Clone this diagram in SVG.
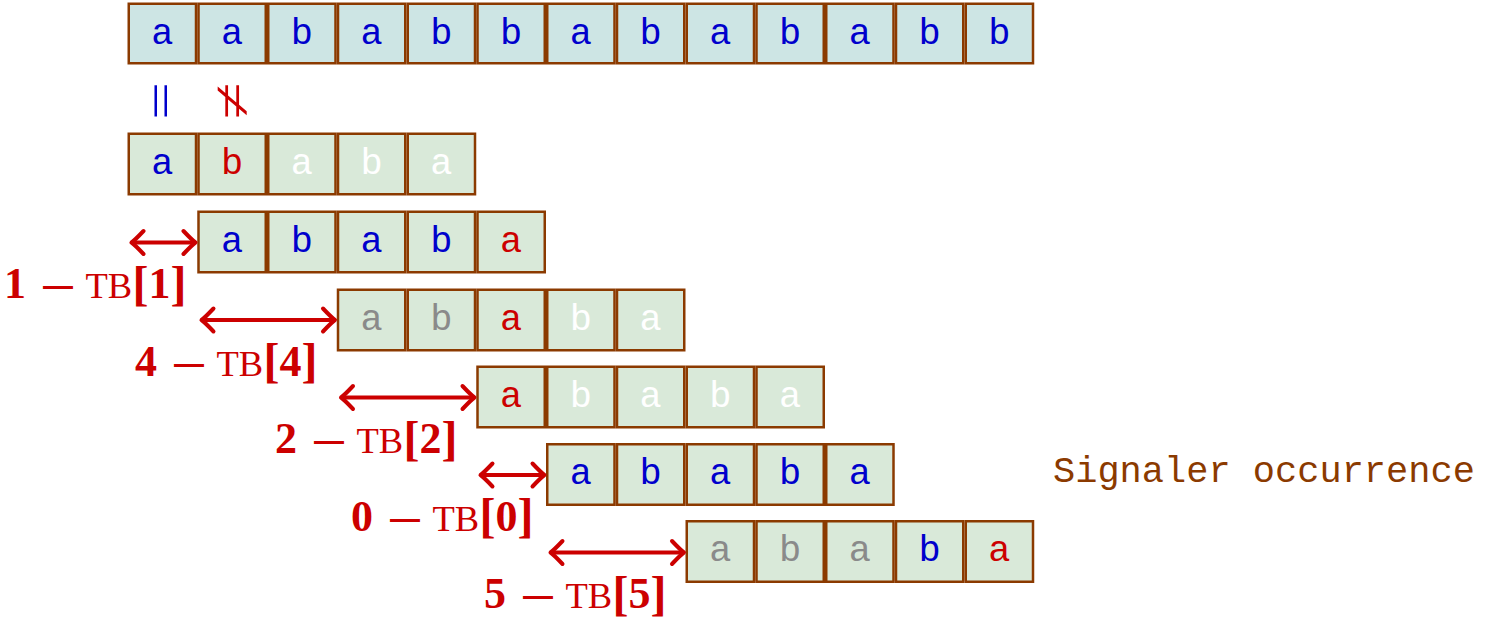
<svg xmlns="http://www.w3.org/2000/svg" width="1489" height="626" viewBox="0 0 1489 626">
  <defs>
    <style>
      .top rect { fill: #CDE5E4; stroke: #8B3A00; stroke-width: 2.5; }
      .pat rect { fill: #D9E9D9; stroke: #8B3A00; stroke-width: 2.5; }
      .ch { font-family: "Liberation Mono", "DejaVu Sans Mono", monospace; font-size: 37px; text-anchor: middle; }
      .b { fill: #0000CC; }
      .r { fill: #CC0000; }
      .w { fill: #FFFFFF; }
      .g { fill: #8A8A8A; }
      .arrow { stroke: #CC0000; stroke-width: 4; fill: none; marker-start: url(#head); marker-end: url(#head); }
      .lbl { fill: #CC0000; }
      .num { font-family: "Liberation Serif", serif; font-weight: bold; font-size: 44px; }
      .dash { font-family: "Liberation Sans", sans-serif; font-weight: bold; font-size: 30px; }
      .tt { font-family: "Liberation Serif", serif; font-size: 36.5px; }
      .br { font-family: "Liberation Serif", serif; font-weight: bold; font-size: 48px; }
      .cmp { font-family: "Liberation Serif", serif; font-size: 50px; text-anchor: middle; }
      .note { font-family: "Liberation Mono", monospace; font-size: 37px; fill: #8B3A00; }
    </style>
    <marker id="head" markerUnits="userSpaceOnUse" markerWidth="30" markerHeight="30" refX="0" refY="0" viewBox="-15 -15 30 30" orient="auto-start-reverse" overflow="visible">
      <path d="M -12 -11.5 Q -3 -2 0 0 Q -3 2 -12 11.5" fill="none" stroke="#CC0000" stroke-width="4" stroke-linecap="round" stroke-linejoin="round"/>
    </marker>
  </defs>

  <rect width="1489" height="626" fill="#FFFFFF"/>

  <!-- text being searched -->
  <g id="text-row" class="top" transform="translate(127.5,2.5)">
    <rect x="1.25" y="1.25" width="67.25" height="59.5"/>
    <rect x="71" y="1.25" width="67.25" height="59.5"/>
    <rect x="140.75" y="1.25" width="67.25" height="59.5"/>
    <rect x="210.5" y="1.25" width="67.25" height="59.5"/>
    <rect x="280.25" y="1.25" width="67.25" height="59.5"/>
    <rect x="350" y="1.25" width="67.25" height="59.5"/>
    <rect x="419.75" y="1.25" width="67.25" height="59.5"/>
    <rect x="489.5" y="1.25" width="67.25" height="59.5"/>
    <rect x="559.25" y="1.25" width="67.25" height="59.5"/>
    <rect x="629" y="1.25" width="67.25" height="59.5"/>
    <rect x="698.75" y="1.25" width="67.25" height="59.5"/>
    <rect x="768.5" y="1.25" width="67.25" height="59.5"/>
    <rect x="838.25" y="1.25" width="67.25" height="59.5"/>
    <text class="ch b" x="34.875" y="41">a</text>
    <text class="ch b" x="104.625" y="41">a</text>
    <text class="ch b" x="174.375" y="41">b</text>
    <text class="ch b" x="244.125" y="41">a</text>
    <text class="ch b" x="313.875" y="41">b</text>
    <text class="ch b" x="383.625" y="41">b</text>
    <text class="ch b" x="453.375" y="41">a</text>
    <text class="ch b" x="523.125" y="41">b</text>
    <text class="ch b" x="592.875" y="41">a</text>
    <text class="ch b" x="662.625" y="41">b</text>
    <text class="ch b" x="732.375" y="41">a</text>
    <text class="ch b" x="802.125" y="41">b</text>
    <text class="ch b" x="871.875" y="41">b</text>
  </g>

  <!-- comparison of the first two characters -->
  <g id="match-marks">
    <text class="cmp b" transform="translate(144,101) rotate(90) scale(1.34,1)">=</text>
    <text class="cmp r" transform="translate(214,101) rotate(90) scale(1.34,1.1)">≠</text>
  </g>

  <!-- pattern at successive shifts -->
  <g id="pattern-0" class="pat" transform="translate(127.5,132.5)">
    <rect x="1.25" y="1.25" width="67.25" height="60.5"/>
    <rect x="71" y="1.25" width="67.25" height="60.5"/>
    <rect x="140.75" y="1.25" width="67.25" height="60.5"/>
    <rect x="210.5" y="1.25" width="67.25" height="60.5"/>
    <rect x="280.25" y="1.25" width="67.25" height="60.5"/>
    <text class="ch b" x="34.875" y="41">a</text>
    <text class="ch r" x="104.625" y="41">b</text>
    <text class="ch w" x="174.375" y="41">a</text>
    <text class="ch w" x="244.125" y="41">b</text>
    <text class="ch w" x="313.875" y="41">a</text>
  </g>

  <g id="pattern-1" class="pat" transform="translate(197.25,210.5)">
    <rect x="1.25" y="1.25" width="67.25" height="60.5"/>
    <rect x="71" y="1.25" width="67.25" height="60.5"/>
    <rect x="140.75" y="1.25" width="67.25" height="60.5"/>
    <rect x="210.5" y="1.25" width="67.25" height="60.5"/>
    <rect x="280.25" y="1.25" width="67.25" height="60.5"/>
    <text class="ch b" x="34.875" y="41">a</text>
    <text class="ch b" x="104.625" y="41">b</text>
    <text class="ch b" x="174.375" y="41">a</text>
    <text class="ch b" x="244.125" y="41">b</text>
    <text class="ch r" x="313.875" y="41">a</text>
  </g>

  <g id="pattern-2" class="pat" transform="translate(336.75,288.5)">
    <rect x="1.25" y="1.25" width="67.25" height="60.5"/>
    <rect x="71" y="1.25" width="67.25" height="60.5"/>
    <rect x="140.75" y="1.25" width="67.25" height="60.5"/>
    <rect x="210.5" y="1.25" width="67.25" height="60.5"/>
    <rect x="280.25" y="1.25" width="67.25" height="60.5"/>
    <text class="ch g" x="34.875" y="41">a</text>
    <text class="ch g" x="104.625" y="41">b</text>
    <text class="ch r" x="174.375" y="41">a</text>
    <text class="ch w" x="244.125" y="41">b</text>
    <text class="ch w" x="313.875" y="41">a</text>
  </g>

  <g id="pattern-3" class="pat" transform="translate(476.25,365.5)">
    <rect x="1.25" y="1.25" width="67.25" height="60.5"/>
    <rect x="71" y="1.25" width="67.25" height="60.5"/>
    <rect x="140.75" y="1.25" width="67.25" height="60.5"/>
    <rect x="210.5" y="1.25" width="67.25" height="60.5"/>
    <rect x="280.25" y="1.25" width="67.25" height="60.5"/>
    <text class="ch r" x="34.875" y="41">a</text>
    <text class="ch w" x="104.625" y="41">b</text>
    <text class="ch w" x="174.375" y="41">a</text>
    <text class="ch w" x="244.125" y="41">b</text>
    <text class="ch w" x="313.875" y="41">a</text>
  </g>

  <g id="pattern-4" class="pat" transform="translate(546,443)">
    <rect x="1.25" y="1.25" width="67.25" height="60.5"/>
    <rect x="71" y="1.25" width="67.25" height="60.5"/>
    <rect x="140.75" y="1.25" width="67.25" height="60.5"/>
    <rect x="210.5" y="1.25" width="67.25" height="60.5"/>
    <rect x="280.25" y="1.25" width="67.25" height="60.5"/>
    <text class="ch b" x="34.875" y="41">a</text>
    <text class="ch b" x="104.625" y="41">b</text>
    <text class="ch b" x="174.375" y="41">a</text>
    <text class="ch b" x="244.125" y="41">b</text>
    <text class="ch b" x="313.875" y="41">a</text>
  </g>

  <g id="pattern-5" class="pat" transform="translate(685.5,520)">
    <rect x="1.25" y="1.25" width="67.25" height="60.5"/>
    <rect x="71" y="1.25" width="67.25" height="60.5"/>
    <rect x="140.75" y="1.25" width="67.25" height="60.5"/>
    <rect x="210.5" y="1.25" width="67.25" height="60.5"/>
    <rect x="280.25" y="1.25" width="67.25" height="60.5"/>
    <text class="ch g" x="34.875" y="41">a</text>
    <text class="ch g" x="104.625" y="41">b</text>
    <text class="ch g" x="174.375" y="41">a</text>
    <text class="ch b" x="244.125" y="41">b</text>
    <text class="ch r" x="313.875" y="41">a</text>
  </g>

  <!-- shift arrows -->
  <g id="connectors">
    <line class="arrow" x1="131.5" y1="242.5" x2="195.5" y2="242.5"/>
    <line class="arrow" x1="201.5" y1="320" x2="335" y2="320"/>
    <line class="arrow" x1="341" y1="397.5" x2="474.5" y2="397.5"/>
    <line class="arrow" x1="480.5" y1="475" x2="544.5" y2="475"/>
    <line class="arrow" x1="550.5" y1="552.5" x2="684" y2="552.5"/>
  </g>

  <!-- shift amounts -->
  <g id="shift-labels" class="lbl">
    <text transform="translate(7,298)"><tspan class="num" x="-3" y="0">1</tspan><tspan class="dash" x="36" y="-2">—</tspan><tspan class="tt" x="78.5" y="0">TB</tspan><tspan class="br" x="125.5" y="1.5">[</tspan><tspan class="num" x="141.5" y="0">1</tspan><tspan class="br" x="163.5" y="1.5">]</tspan></text>
    <text transform="translate(138,375.5)"><tspan class="num" x="-3" y="0">4</tspan><tspan class="dash" x="36" y="-2">—</tspan><tspan class="tt" x="78.5" y="0">TB</tspan><tspan class="br" x="125.5" y="1.5">[</tspan><tspan class="num" x="141.5" y="0">4</tspan><tspan class="br" x="163.5" y="1.5">]</tspan></text>
    <text transform="translate(278,453)"><tspan class="num" x="-3" y="0">2</tspan><tspan class="dash" x="36" y="-2">—</tspan><tspan class="tt" x="78.5" y="0">TB</tspan><tspan class="br" x="125.5" y="1.5">[</tspan><tspan class="num" x="141.5" y="0">2</tspan><tspan class="br" x="163.5" y="1.5">]</tspan></text>
    <text transform="translate(354,530.5)"><tspan class="num" x="-3" y="0">0</tspan><tspan class="dash" x="36" y="-2">—</tspan><tspan class="tt" x="78.5" y="0">TB</tspan><tspan class="br" x="125.5" y="1.5">[</tspan><tspan class="num" x="141.5" y="0">0</tspan><tspan class="br" x="163.5" y="1.5">]</tspan></text>
    <text transform="translate(487,608)"><tspan class="num" x="-3" y="0">5</tspan><tspan class="dash" x="36" y="-2">—</tspan><tspan class="tt" x="78.5" y="0">TB</tspan><tspan class="br" x="125.5" y="1.5">[</tspan><tspan class="num" x="141.5" y="0">5</tspan><tspan class="br" x="163.5" y="1.5">]</tspan></text>
  </g>

  <text id="report" class="note" x="1053" y="482">Signaler occurrence</text>
</svg>
